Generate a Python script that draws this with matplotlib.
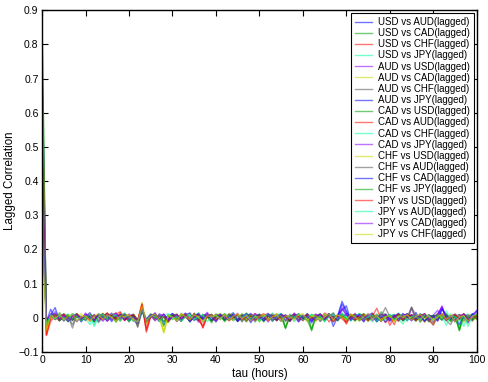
import numpy as np
import matplotlib
matplotlib.use('Agg')
import matplotlib.pyplot as plt

#%% datos (correlacion x 1000, tau = 0..100)
usd_aud = [740, -20, 5, 12, -8, 3, 10, -5, 8, -12, 4,
           15, -6, 2, 9, -10, 6, 12, -4, 3, -8,
           5, -18, 30, -15, 8, -5, 10, -20, 6, 12,
           -8, 4, 14, -10, 2, 7, -12, 9, 3, -6,
           10, -4, 6, 15, -9, 2, 8, -14, 5, 11,
           -3, 7, -10, 4, 12, -6, 3, 9, -11, 6,
           2, -15, 8, 4, -7, 12, -3, 6, 48, 20,
           -5, 10, 3, -12, 8, 14, -6, 2, 9, -10,
           5, -8, 12, 3, -5, 16, -9, 4, 7, -12,
           10, 30, -4, 6, -10, 8, 3, -15, 12, 5]
usd_cad = [870, -35, 10, -5, 15, 2, -12, 8, 3, -6, 11,
           -4, 9, -14, 6, 13, -2, 5, -9, 12, 4,
           -7, -12, 28, -10, 4, 12, -3, -25, 9, -5,
           8, -11, 5, 13, -2, -8, 10, 4, -15, 7,
           3, 12, -6, -2, 9, -10, 14, 5, -4, 8,
           -12, 6, 3, -9, 11, -32, 7, 2, 10, -5,
           9, -38, 4, 12, -6, 3, 15, -8, 10, -2,
           6, -9, 13, 2, -5, 11, -7, 18, -3, 4,
           -10, 7, 2, 12, -4, 9, -13, 5, 8, -6,
           14, -3, 6, -11, 4, -36, 10, 2, -7, 9]
usd_chf = [690, -52, -10, 4, 9, -3, 7, -8, 12, 2, -5,
           8, -12, 6, 3, 15, -4, 10, 18, -6, 4,
           9, -14, 42, -42, 5, 10, -7, 3, -12, 8,
           -4, 11, 2, -9, 14, -3, -28, 6, 10, -2,
           7, -6, 12, 4, -10, 8, 3, -5, 11, -8,
           5, 13, -7, 2, 9, -11, 6, -3, 12, 1,
           -8, 4, 10, -5, 14, 6, -12, 3, 8, -18,
           10, -4, 7, 2, -9, 12, -6, 5, -14, 8,
           3, -10, 6, 11, -5, 2, 9, -13, 7, 4,
           -8, 12, 5, -6, 10, -3, 7, -11, 4, 2]
usd_jpy = [450, -15, 6, -3, 10, -7, 4, 12, -9, 5, -2,
           -20, 8, 3, -6, 11, 2, -4, 9, 14, -8,
           4, -10, 20, -6, 12, -3, 8, -15, 4, 10,
           -7, 3, 9, -12, 6, 15, -4, 2, -8, 11,
           5, -9, 3, 12, -6, 7, -2, 10, -13, 4,
           8, -5, 14, 2, -10, 6, -7, 11, 3, -4,
           12, -8, 5, 2, -11, 9, 4, -6, 15, 3,
           -9, 6, 11, -4, 2, -12, 8, 5, -3, 10,
           -6, 14, 3, -9, 7, 2, -5, 12, -10, 6,
           4, -7, 20, -3, 8, -28, 5, 11, -4, 2]
aud_usd = [740, -12, 2, 18, -5, 9, -10, 6, 3, -7, 14,
           -3, 8, -11, 5, 12, -6, 2, 10, -4, 7,
           -9, -15, 26, -12, 3, 15, -6, 9, -2, 11,
           5, -8, 12, -4, 7, -13, 3, 16, -9, 6,
           -2, 10, -7, 4, 13, -5, 8, -10, 2, 9,
           6, -12, 4, 11, -3, 7, -9, 14, 2, -6,
           8, -3, 11, -10, 5, 2, 12, -7, 30, 8,
           -4, 13, -8, 5, 10, -2, 7, -11, 4, 9,
           -6, 3, 12, -9, 28, -4, 6, 10, -8, 2,
           7, 35, -5, 3, -12, 9, 4, -7, 11, -3]
aud_cad = [550, -40, 8, -6, 3, 11, -4, 9, -12, 5, 2,
           10, -7, 4, 14, -3, 8, -10, 6, 2, -5,
           12, -9, 45, -18, 6, -4, 10, -45, 3, 8,
           -10, 5, 2, 11, -6, 9, -3, 4, -11, 7,
           13, -2, 6, -9, 3, 10, -5, 8, 2, -12,
           4, 9, -6, 12, -3, 5, 7, -10, 3, 11,
           -4, 8, -12, 6, 2, 10, -7, 4, 9, -5,
           3, -11, 7, 12, -2, 5, -9, 10, 4, -6,
           11, 2, -8, 6, 9, -4, 3, -12, 7, 5,
           -3, 10, -6, 4, 12, -9, 2, 7, -10, 6]
aud_chf = [620, -25, -5, 10, 3, -8, 6, -30, 9, 2, -6,
           7, -10, 4, 12, -3, 8, 5, -9, 11, -2,
           6, -25, 22, -8, 10, -4, 3, -12, 7, 2,
           -9, 12, 5, -3, 8, -7, 10, 2, -5, 11,
           4, -8, 9, 3, -11, 6, 12, -4, 7, -2,
           10, -6, 3, 8, -9, 5, 2, 11, -7, 4,
           -3, 9, 6, -10, 4, 12, -5, 7, 2, -8,
           11, 3, -6, 9, -4, 8, -12, 5, 30, 2,
           -7, 10, 4, -3, 32, 6, -9, 3, 8, -5,
           2, 12, -8, -20, 6, 10, -4, 3, -9, 7]
aud_jpy = [350, -10, 25, -4, 7, 2, -9, 11, 5, -6, 3,
           9, -12, 6, 2, -7, 14, -3, 8, 4, -10,
           5, -8, 18, -5, 10, 3, -11, 7, -4, 12,
           2, -6, 9, 14, -8, 4, -2, 11, 6, -12,
           8, 3, -5, 10, -9, 6, 2, 13, -7, 4,
           -3, 11, 7, -8, 5, 2, -10, 9, 4, -6,
           12, -2, 6, -9, 10, 3, -5, 8, 22, 35,
           -8, 4, 10, -6, 2, 11, -4, 7, -13, 5,
           9, -3, 6, 12, -7, 4, 2, -10, 8, 3,
           -5, 28, 4, -9, 6, -2, 11, -8, 3, 10]
cad_usd = [870, -30, 3, 9, -7, 12, 4, -5, 10, -9, 6,
           2, -8, 11, 5, -4, 9, -13, 6, 3, -7,
           10, -6, 30, -12, 5, 9, -8, 2, -14, 6,
           11, -3, 7, -10, 4, 13, -6, 2, 9, -5,
           6, -11, 3, 8, -4, 12, -7, 5, 2, 10,
           -9, 4, 7, -5, 11, -28, 3, 9, -6, 2,
           8, -32, 5, 11, -4, 7, 3, -9, 12, -6,
           4, 9, -3, 6, -10, 2, 11, -7, 5, 8,
           -4, 12, -9, 3, 7, -5, 10, 2, -12, 6,
           9, -4, 5, -10, 7, -34, 12, 3, -6, 8]
cad_aud = [550, -48, 6, 2, -9, 10, -3, 7, 12, -6, 4,
           9, -5, 3, 11, -8, 6, 15, -4, 2, 10,
           -6, -10, 38, -30, 8, 2, -9, 6, -11, 4,
           10, -6, 3, -4, 12, -8, -22, 7, 2, 9,
           -5, 11, 4, -7, 8, 2, -10, 6, 12, -3,
           7, -9, 4, 10, -2, 6, -11, 8, 3, -5,
           11, 2, -7, 5, 9, -12, 4, 8, -3, -15,
           6, 10, -8, 3, -5, 11, 2, -9, 7, 4,
           -20, 8, 3, -6, 10, 2, -4, 12, -7, -22,
           5, 9, -3, 7, -8, 4, 11, -6, 2, 8]
cad_chf = [500, -18, 4, 8, -6, 2, 11, -9, 5, 3, -7,
           10, -20, 6, 2, -5, 12, 8, -3, 7, -9,
           4, -12, 24, -7, 3, 10, -5, 8, -10, 2,
           6, -9, 11, 4, -3, 8, -12, 5, 10, -4,
           2, 9, -6, 13, -8, 4, 7, -2, 10, -11,
           5, 3, -8, 9, 12, -4, 6, -10, 2, 8,
           -7, 11, 3, -5, 9, 2, -12, 6, 10, -3,
           7, -9, 4, 12, -6, 3, -2, 9, -8, 5,
           10, -4, -18, 7, 2, -10, 6, 11, -5, -20,
           8, 4, -9, 12, -3, 6, -25, 5, 9, -2]
cad_jpy = [300, -8, 12, -5, 6, 10, -3, 8, -11, 4, 2,
           -6, 9, 3, -10, 7, 12, -4, 5, -8, 11,
           2, -14, 20, -8, 6, -9, 12, 3, -5, 9,
           -11, 4, 7, -2, 10, -6, 3, 13, -7, 5,
           9, -4, 2, 11, -8, 6, -3, 10, 4, -9,
           7, 12, -5, 3, -10, 8, 2, 6, -12, 4,
           10, -6, 3, 9, -4, 11, -8, 5, 2, 12,
           -5, 7, 3, -10, 8, 4, -6, 11, 2, -9,
           6, 12, -4, 3, 9, -7, 5, 10, -3, 8,
           22, 6, -8, 4, 11, -5, 2, 9, -6, 18]
chf_usd = [680, -42, 4, 11, -6, 3, 9, -8, 5, 12, -4,
           7, -10, 2, 8, -5, 11, 3, -7, 9, 6,
           -3, -8, 35, -15, 10, -6, 4, -40, 8, 3,
           -9, 11, 5, -4, 7, 2, -10, 9, 4, -6,
           12, 3, -8, 6, -2, 10, -5, 7, 3, -11,
           9, 4, -6, 11, 2, -9, 5, 8, -3, 7,
           -10, 6, 3, -5, 12, 2, -8, 9, 4, -3,
           11, -6, 5, 2, -9, 10, 3, -7, 8, 4,
           -12, 6, 9, -3, 5, 2, -8, 11, 4, -6,
           7, -2, 10, -9, 3, 6, -14, 8, 2, -5]
chf_aud = [620, -22, 7, -3, 9, -10, 4, -20, 6, 2, -8,
           10, 3, -6, 12, -4, 7, -9, 5, 11, -2,
           8, -28, 18, -5, 3, 10, -7, 4, -9, 6,
           2, -10, 8, 5, -6, 11, -4, 7, 3, -9,
           6, 10, -5, 2, 8, -12, 4, 9, -3, 7,
           -8, 5, 11, -4, 3, 9, -10, 6, 2, -7,
           12, -3, 7, 4, -9, 5, 10, -6, 3, 8,
           -5, 11, 2, -8, 6, 3, -10, 9, 12, -4,
           7, -9, 5, 2, 30, -6, 8, 3, -11, 6,
           4, -7, 10, -3, 8, 2, -9, 5, 11, -4]
chf_cad = [500, -14, 9, 30, -8, 5, 2, -7, 10, -4, 6,
           3, -9, 12, -2, 7, -11, 5, 9, -6, 4,
           10, -7, 22, -10, 2, 8, -4, 11, -8, 3,
           6, -5, 9, -12, 4, 10, -3, 7, -9, 2,
           11, -6, 4, 8, -10, 3, 12, -5, 6, 2,
           -9, 7, 3, -6, 10, 4, -8, 5, 11, -3,
           6, -10, 2, 9, -5, 12, -25, 4, 40, 15,
           3, -7, 10, 5, -4, 8, -11, 2, 9, -6,
           4, 11, -8, 3, 7, -5, 12, -9, 2, 6,
           -10, 25, 8, -4, 3, -20, 7, -6, 10, 20]
chf_jpy = [250, -12, 5, 10, -9, 3, 7, -5, 12, -8, 4,
           2, -11, 8, 6, -4, 10, -7, 3, 9, -12,
           5, -9, 20, -6, 11, -3, 7, -10, 4, 8,
           -6, 10, 3, -8, 12, -4, 6, 2, -10, 7,
           4, -7, 11, 3, -5, 9, -12, 6, 2, 10,
           -4, 8, -9, 5, 3, -30, 11, -2, 7, 4,
           -8, -35, 6, 3, -5, 9, 2, -7, 10, -4,
           7, 3, -9, 12, -6, 5, 2, -10, 8, 4,
           -3, 10, -7, 5, 2, -9, 11, 4, -6, 8,
           3, -5, 12, -8, 6, -38, 9, 2, -4, 7]
jpy_usd = [450, -50, 3, 8, -5, 11, -8, 4, 9, -3, 6,
           -10, 7, 2, -6, 12, 5, -4, 15, -8, 3,
           9, -6, 40, -38, 4, 11, -5, 7, -10, 2,
           8, -4, 12, -7, 3, 9, -30, 5, 10, -6,
           4, 8, -9, 2, 11, -5, 7, 3, -10, 6,
           12, -3, 5, -8, 9, 2, -6, 11, 4, -9,
           7, 3, -5, 10, -2, 8, -11, 6, 4, -12,
           9, -6, 3, 11, -8, 5, 28, -4, 7, -22,
           2, 10, -5, 8, 3, -9, 6, 12, -4, -18,
           10, 5, -7, 3, 9, -5, 12, -8, 4, 2]
jpy_aud = [350, -20, 10, -4, 6, 2, -9, 12, 5, -7, 3,
           8, -25, 4, 10, -6, 3, 11, -8, 5, 2,
           -9, -11, 22, -5, 7, 3, -10, 6, 12, -4,
           5, -8, 2, 10, -6, 4, 9, -11, 3, 7,
           -5, 12, 3, -8, 6, 2, 10, -4, 7, -9,
           4, 11, -6, 3, 8, -10, 5, 2, 12, -7,
           3, 9, -5, 6, -11, 4, 10, -3, 8, 2,
           -9, 6, 12, -4, 3, 7, -10, 5, 2, 9,
           -6, 4, 11, -8, 3, 6, -5, 10, 2, -7,
           9, 4, -22, 6, 3, -10, 8, -25, 5, 11]
jpy_cad = [300, -6, 8, 12, -4, 7, -10, 3, 9, -5, 11,
           4, -7, 10, 2, -9, 6, 13, -3, 8, -5,
           3, -10, 26, -4, 9, -7, 5, 11, -6, 2,
           10, -3, 7, -9, 4, 12, -5, 8, 2, -10,
           6, 3, -7, 11, -4, 8, 2, -9, 12, 5,
           -3, 9, -6, 4, 10, -8, 3, 12, -5, 7,
           2, -9, 6, 11, -4, 8, 3, -7, 25, 10,
           -6, 4, 9, -3, 12, -8, 5, 2, 10, -5,
           7, -4, 11, 3, -9, 6, 2, 12, -6, 4,
           9, 32, -3, 6, -10, 5, 11, -4, 3, 22]
jpy_chf = [250, -35, 7, -2, 10, -6, 4, 11, -8, 3, 6,
           -9, 5, 12, -4, 8, 2, -10, 6, 3, 9,
           -5, -12, 32, -9, 4, 10, -6, -42, 7, 3,
           -8, 11, 4, -5, 9, 2, -11, 6, 3, 8,
           -4, 10, -7, 5, 12, -3, 6, -9, 4, 2,
           11, -6, 3, 8, -10, 5, 2, -4, 9, 12,
           -7, 4, 6, -9, 3, 11, -5, 8, 2, -6,
           10, 3, -8, 5, 12, -4, 6, -9, 3, 7,
           -11, 5, 2, 9, -6, 4, 10, -3, 7, -8,
           2, 11, -5, 8, -12, 3, 6, -9, 4, 10]

series = [usd_aud, usd_cad, usd_chf, usd_jpy, aud_usd, aud_cad, aud_chf, aud_jpy,
          cad_usd, cad_aud, cad_chf, cad_jpy, chf_usd, chf_aud, chf_cad, chf_jpy,
          jpy_usd, jpy_aud, jpy_cad, jpy_chf]
etiquetas = ['USD vs AUD(lagged)', 'USD vs CAD(lagged)', 'USD vs CHF(lagged)', 'USD vs JPY(lagged)',
             'AUD vs USD(lagged)', 'AUD vs CAD(lagged)', 'AUD vs CHF(lagged)', 'AUD vs JPY(lagged)',
             'CAD vs USD(lagged)', 'CAD vs AUD(lagged)', 'CAD vs CHF(lagged)', 'CAD vs JPY(lagged)',
             'CHF vs USD(lagged)', 'CHF vs AUD(lagged)', 'CHF vs CAD(lagged)', 'CHF vs JPY(lagged)',
             'JPY vs USD(lagged)', 'JPY vs AUD(lagged)', 'JPY vs CAD(lagged)', 'JPY vs CHF(lagged)']

colores = ['#0000ff', '#00a000', '#ff0000', '#00ff99', '#8800ff', '#c8d800', '#555555']

#%% grafico
plt.rcParams['font.family'] = ['Liberation Sans', 'DejaVu Sans']
plt.rcParams['xtick.direction'] = 'in'
plt.rcParams['ytick.direction'] = 'in'
plt.rcParams['xtick.top'] = True
plt.rcParams['ytick.right'] = True

fig = plt.figure(figsize=(4.89, 3.82), dpi=100)
ax = fig.add_axes([0.086, 0.0785, 0.889, 0.895])

for i, s in enumerate(series):
    y = np.array(s) / 1000.0
    tau = np.arange(len(y))
    ax.plot(tau, y, c=colores[i % len(colores)], alpha=0.55, lw=1, label=etiquetas[i])

ax.set_xlim(0, 100)
ax.set_ylim(-0.1, 0.9)
ax.set_xticks(np.arange(0, 101, 10))
ax.set_yticks(np.arange(-0.1, 0.91, 0.1))
ax.set_yticklabels(['\u22120.1', '0', '0.1', '0.2', '0.3', '0.4', '0.5', '0.6', '0.7', '0.8', '0.9'])
ax.tick_params(labelsize=7.5, length=4, width=0.8, pad=2.5)
ax.set_xlabel('tau (hours)', fontsize=8.3, labelpad=2)
ax.set_ylabel('Lagged Correlation', fontsize=8.3)
ax.yaxis.set_label_coords(-0.06, 0.5)
for sp in ax.spines.values():
    sp.set_linewidth(1)

leg = ax.legend(loc='upper right', fontsize=7, labelspacing=0.12, borderpad=0.4,
                handlelength=1.75, handletextpad=0.6, borderaxespad=0.3,
                fancybox=False, framealpha=1, edgecolor='black')
leg.get_frame().set_linewidth(0.8)

plt.savefig('out.png', dpi=100)
